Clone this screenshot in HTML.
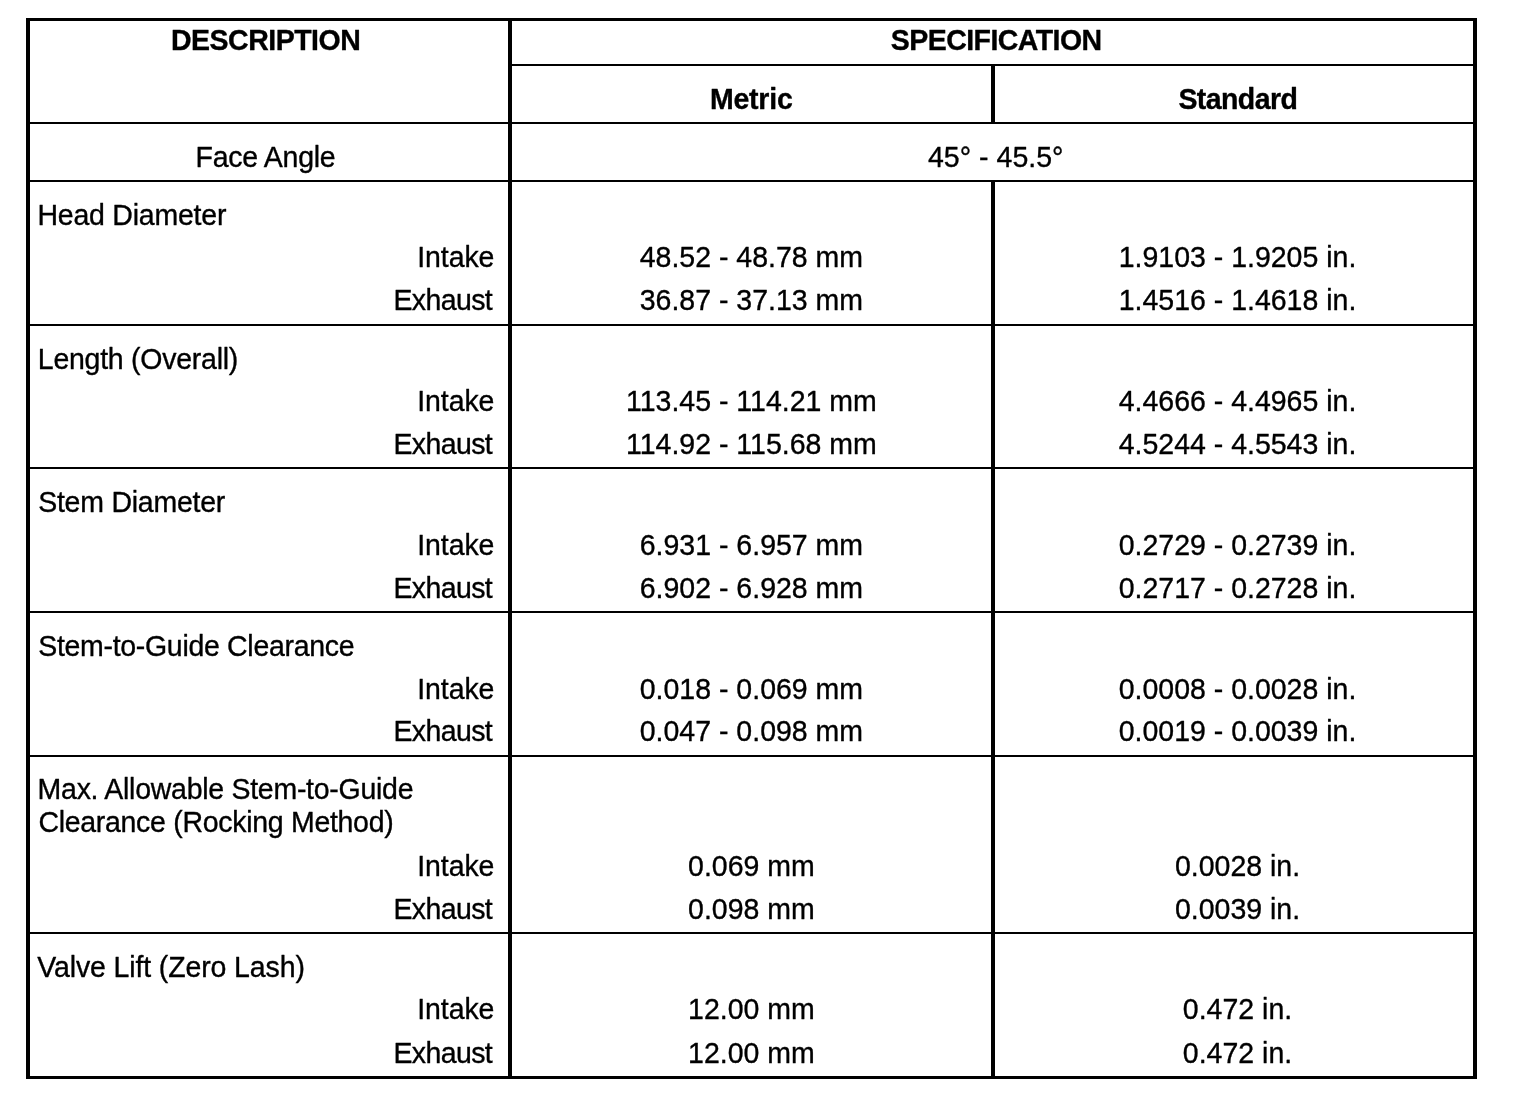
<!DOCTYPE html>
<html lang="en">
<head>
<meta charset="utf-8">
<title>Valve Specifications</title>
<style>
html,body{margin:0;padding:0;background:#fff;}
body{width:1536px;height:1094px;overflow:hidden;}
svg{display:block;will-change:transform;}
text{font-family:"Liberation Sans",Arial,Helvetica,sans-serif;font-size:28.5px;fill:#000;stroke:#000;stroke-width:0.35px;stroke-linejoin:round;}
text.b{font-weight:bold;}
</style>
</head>
<body>
<svg width="1536" height="1094" viewBox="0 0 1536 1094">
<rect x="0" y="0" width="1536" height="1094" fill="#fff"/>
<g fill="#000" shape-rendering="crispEdges">
<rect x="26" y="18" width="1451" height="3"/>
<rect x="26" y="1076" width="1451" height="3"/>
<rect x="26" y="18" width="4" height="1061"/>
<rect x="1473" y="18" width="4" height="1061"/>
<rect x="508" y="18" width="4" height="1061"/>
<rect x="991" y="64" width="4" height="60"/>
<rect x="991" y="180" width="4" height="899"/>
<rect x="508" y="64" width="969" height="2"/>
<rect x="26" y="122" width="1451" height="2"/>
<rect x="26" y="180" width="1451" height="2"/>
<rect x="26" y="324" width="1451" height="2"/>
<rect x="26" y="467" width="1451" height="2"/>
<rect x="26" y="611" width="1451" height="2"/>
<rect x="26" y="755" width="1451" height="2"/>
<rect x="26" y="932" width="1451" height="2"/>
</g>
<g>
<text id="t0" class="b" transform="translate(171.00 49.80) scale(1 1.035)" text-anchor="start" style="letter-spacing:-0.500px">DESCRIPTION</text>
<text id="t1" class="b" transform="translate(890.80 50.00) scale(1 1.035)" text-anchor="start" style="letter-spacing:-0.550px">SPECIFICATION</text>
<text id="t2" class="b" transform="translate(710.00 108.80) scale(1 1.035)" text-anchor="start" style="letter-spacing:-0.240px">Metric</text>
<text id="t3" class="b" transform="translate(1178.40 108.80) scale(1 1.035)" text-anchor="start" style="letter-spacing:-0.571px">Standard</text>
<text id="t4" transform="translate(195.60 167.00) scale(1 1.035)" text-anchor="start" style="letter-spacing:-0.289px">Face Angle</text>
<text id="t5" transform="translate(928.00 167.00) scale(1 1.035)" text-anchor="start" style="letter-spacing:0.020px">45° - 45.5°</text>
<text id="t6" transform="translate(37.40 225.00) scale(1 1.035)" text-anchor="start" style="letter-spacing:-0.217px">Head Diameter</text>
<text id="t7" transform="translate(417.20 267.00) scale(1 1.035)" text-anchor="start" style="letter-spacing:-0.080px">Intake</text>
<text id="t8" transform="translate(393.40 310.20) scale(1 1.035)" text-anchor="start" style="letter-spacing:-0.600px">Exhaust</text>
<text id="t9" transform="translate(751.40 267.00) scale(1 1.035)" text-anchor="middle">48.52 - 48.78 mm</text>
<text id="t10" transform="translate(751.40 310.20) scale(1 1.035)" text-anchor="middle">36.87 - 37.13 mm</text>
<text id="t11" transform="translate(1237.50 267.00) scale(1 1.035)" text-anchor="middle">1.9103 - 1.9205 in.</text>
<text id="t12" transform="translate(1237.50 310.20) scale(1 1.035)" text-anchor="middle">1.4516 - 1.4618 in.</text>
<text id="t13" transform="translate(37.80 369.00) scale(1 1.035)" text-anchor="start" style="letter-spacing:-0.253px">Length (Overall)</text>
<text id="t14" transform="translate(417.20 410.90) scale(1 1.035)" text-anchor="start" style="letter-spacing:-0.080px">Intake</text>
<text id="t15" transform="translate(393.40 453.80) scale(1 1.035)" text-anchor="start" style="letter-spacing:-0.600px">Exhaust</text>
<text id="t16" transform="translate(751.40 410.90) scale(1 1.035)" text-anchor="middle">113.45 - 114.21 mm</text>
<text id="t17" transform="translate(751.40 453.80) scale(1 1.035)" text-anchor="middle">114.92 - 115.68 mm</text>
<text id="t18" transform="translate(1237.50 410.90) scale(1 1.035)" text-anchor="middle">4.4666 - 4.4965 in.</text>
<text id="t19" transform="translate(1237.50 453.80) scale(1 1.035)" text-anchor="middle">4.5244 - 4.5543 in.</text>
<text id="t20" transform="translate(38.20 512.00) scale(1 1.035)" text-anchor="start" style="letter-spacing:-0.250px">Stem Diameter</text>
<text id="t21" transform="translate(417.20 555.00) scale(1 1.035)" text-anchor="start" style="letter-spacing:-0.080px">Intake</text>
<text id="t22" transform="translate(393.40 598.10) scale(1 1.035)" text-anchor="start" style="letter-spacing:-0.600px">Exhaust</text>
<text id="t23" transform="translate(751.40 555.00) scale(1 1.035)" text-anchor="middle">6.931 - 6.957 mm</text>
<text id="t24" transform="translate(751.40 598.10) scale(1 1.035)" text-anchor="middle">6.902 - 6.928 mm</text>
<text id="t25" transform="translate(1237.50 555.00) scale(1 1.035)" text-anchor="middle">0.2729 - 0.2739 in.</text>
<text id="t26" transform="translate(1237.50 598.10) scale(1 1.035)" text-anchor="middle">0.2717 - 0.2728 in.</text>
<text id="t27" transform="translate(38.20 656.00) scale(1 1.035)" text-anchor="start" style="letter-spacing:-0.309px">Stem-to-Guide Clearance</text>
<text id="t28" transform="translate(417.20 699.00) scale(1 1.035)" text-anchor="start" style="letter-spacing:-0.080px">Intake</text>
<text id="t29" transform="translate(393.40 741.30) scale(1 1.035)" text-anchor="start" style="letter-spacing:-0.600px">Exhaust</text>
<text id="t30" transform="translate(751.40 699.00) scale(1 1.035)" text-anchor="middle">0.018 - 0.069 mm</text>
<text id="t31" transform="translate(751.40 741.30) scale(1 1.035)" text-anchor="middle">0.047 - 0.098 mm</text>
<text id="t32" transform="translate(1237.50 699.00) scale(1 1.035)" text-anchor="middle">0.0008 - 0.0028 in.</text>
<text id="t33" transform="translate(1237.50 741.30) scale(1 1.035)" text-anchor="middle">0.0019 - 0.0039 in.</text>
<text id="t34" transform="translate(37.60 799.00) scale(1 1.035)" text-anchor="start" style="letter-spacing:-0.274px">Max. Allowable Stem-to-Guide</text>
<text id="t35" transform="translate(38.40 832.40) scale(1 1.035)" text-anchor="start" style="letter-spacing:-0.296px">Clearance (Rocking Method)</text>
<text id="t36" transform="translate(417.20 876.00) scale(1 1.035)" text-anchor="start" style="letter-spacing:-0.080px">Intake</text>
<text id="t37" transform="translate(393.40 919.00) scale(1 1.035)" text-anchor="start" style="letter-spacing:-0.600px">Exhaust</text>
<text id="t38" transform="translate(751.40 876.00) scale(1 1.035)" text-anchor="middle">0.069 mm</text>
<text id="t39" transform="translate(751.40 919.00) scale(1 1.035)" text-anchor="middle">0.098 mm</text>
<text id="t40" transform="translate(1237.50 876.00) scale(1 1.035)" text-anchor="middle">0.0028 in.</text>
<text id="t41" transform="translate(1237.50 919.00) scale(1 1.035)" text-anchor="middle">0.0039 in.</text>
<text id="t42" transform="translate(37.20 976.80) scale(1 1.035)" text-anchor="start" style="letter-spacing:-0.124px">Valve Lift (Zero Lash)</text>
<text id="t43" transform="translate(417.20 1019.10) scale(1 1.035)" text-anchor="start" style="letter-spacing:-0.080px">Intake</text>
<text id="t44" transform="translate(393.40 1063.00) scale(1 1.035)" text-anchor="start" style="letter-spacing:-0.600px">Exhaust</text>
<text id="t45" transform="translate(751.40 1019.10) scale(1 1.035)" text-anchor="middle">12.00 mm</text>
<text id="t46" transform="translate(751.40 1063.00) scale(1 1.035)" text-anchor="middle">12.00 mm</text>
<text id="t47" transform="translate(1237.50 1019.10) scale(1 1.035)" text-anchor="middle">0.472 in.</text>
<text id="t48" transform="translate(1237.50 1063.00) scale(1 1.035)" text-anchor="middle">0.472 in.</text>
</g>
</svg>
</body>
</html>
